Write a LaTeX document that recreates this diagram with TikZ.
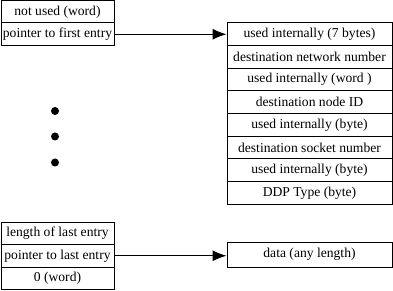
\documentclass[tikz,border=0pt]{standalone}
\usepackage{fontspec}
\setmainfont{Liberation Serif}
\usetikzlibrary{arrows.meta}
\begin{document}
\begin{tikzpicture}[x=1pt,y=-1pt,
  cell/.style={draw,line width=1pt,rectangle,inner sep=0pt,anchor=center,
    font=\fontsize{13.6}{15}\selectfont},
  lcell/.style={cell,minimum width=113pt,minimum height=22.5pt},
  rcell/.style={cell,minimum width=165pt,minimum height=22.7pt},
  ptr/.style={line width=1pt,-{Latex[length=14pt,width=11pt]}},
  dot/.style={fill=black,circle,inner sep=0pt,minimum size=8pt}]
\useasboundingbox (0,0) rectangle (393,291);
% top-left block
\node[lcell] (lt1) at (57.5,11.75) {not used (word)};
\node[lcell] (lt2) at (57.5,34.25) {pointer to first entry};
% right entry block
\node[rcell] (r1) at (309.5,34.05) {used internally (7 bytes)};
\node[rcell] (r2) at (309.5,56.75) {destination network number};
\node[rcell] (r3) at (309.5,79.45) {used internally (word )};
\node[rcell] (r4) at (309.5,102.15) {destination node ID};
\node[rcell] (r5) at (309.5,124.85) {used internally (byte)};
\node[rcell] (r6) at (309.5,147.55) {destination socket number};
\node[rcell] (r7) at (309.5,170.25) {used internally (byte)};
\node[rcell] (r8) at (309.5,192.95) {DDP Type (byte)};
% dots
\node[dot] (d1) at (55,111) {};
\node[dot] (d2) at (55,136.5) {};
\node[dot] (d3) at (55,162.5) {};
% bottom-left block
\node[lcell] (lb1) at (57.5,233.25) {length of last entry};
\node[lcell] (lb2) at (57.5,255.75) {pointer to last entry};
\node[lcell] (lb3) at (57.5,278.25) {0 (word)};
% data block
\node[cell,minimum width=165pt,minimum height=25pt] (data) at (309.5,254.5) {data (any length)};
% pointers
\draw[ptr] (lt2.east) -- (lt2.east -| r1.west);
\draw[ptr] (lb2.east) -- (lb2.east -| data.west);
\end{tikzpicture}
\end{document}
